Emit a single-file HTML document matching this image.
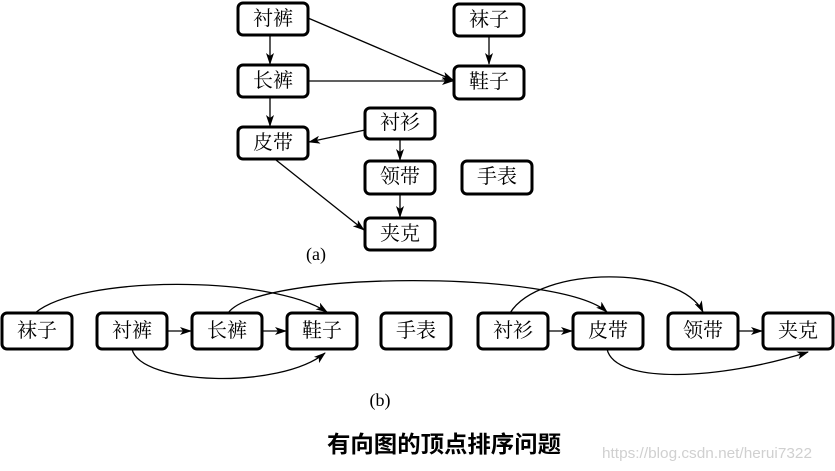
<!DOCTYPE html>
<html><head><meta charset="utf-8"><style>
html,body{margin:0;padding:0;background:#fff;}
svg{display:block;}
.n rect{fill:#fff;stroke:#000;stroke-width:3;}
.n text{font-family:"Liberation Serif","Noto Serif CJK SC","Noto Sans CJK SC",serif;font-size:20px;text-anchor:middle;dominant-baseline:central;fill:#000;}
.e{fill:none;stroke:#000;stroke-width:1.3;}
</style></head><body>
<svg width="835" height="471" viewBox="0 0 835 471" xmlns="http://www.w3.org/2000/svg">
<defs><marker id="a" viewBox="0 0 12 8" refX="11" refY="4" markerWidth="12" markerHeight="8" markerUnits="userSpaceOnUse" orient="auto"><path d="M0,0 L12,4 L0,8 L3,4 Z" fill="#000"/></marker></defs>
<g class="e" marker-end="url(#a)">
<line x1="270" y1="35" x2="270" y2="64"/>
<line x1="308" y1="18" x2="453" y2="80"/>
<line x1="489" y1="37" x2="489" y2="64"/>
<line x1="308" y1="81" x2="453" y2="81"/>
<line x1="270" y1="98" x2="270" y2="126"/>
<line x1="365" y1="130" x2="309" y2="142"/>
<line x1="400" y1="140" x2="400" y2="160"/>
<line x1="400" y1="195" x2="400" y2="217"/>
<line x1="276" y1="160" x2="364" y2="230"/>
</g>
<g class="n">
<rect x="238" y="3" width="70" height="32" rx="5"/><text x="273" y="19">衬裤</text>
<rect x="454" y="4" width="70" height="32" rx="5"/><text x="489" y="20">袜子</text>
<rect x="238" y="65" width="70" height="32" rx="5"/><text x="273" y="81">长裤</text>
<rect x="454" y="66" width="70" height="33" rx="5"/><text x="489" y="82">鞋子</text>
<rect x="238" y="127" width="70" height="32" rx="5"/><text x="273" y="143">皮带</text>
<rect x="365" y="108" width="70" height="31" rx="5"/><text x="400" y="123">衬衫</text>
<rect x="365" y="161" width="70" height="33" rx="5"/><text x="400" y="177">领带</text>
<rect x="462" y="161" width="70" height="33" rx="5"/><text x="497" y="177">手表</text>
<rect x="365" y="218" width="70" height="32" rx="5"/><text x="400" y="234">夹克</text>
</g>
<text x="316" y="260" font-family="Liberation Serif,serif" font-size="18" text-anchor="middle">(a)</text>
<g class="e" marker-end="url(#a)">
<path d="M35,313 C80,275 270,275 327,312"/>
<path d="M228,313 C260,270 560,270 607,312"/>
<path d="M510,313 C540,265 680,265 703,312"/>
<path d="M132,349 C140,385 280,390 325,353"/>
<path d="M607,349 C615,385 720,380 808,352"/>
<line x1="167" y1="331" x2="191" y2="331"/>
<line x1="262" y1="331" x2="286" y2="331"/>
<line x1="548" y1="331" x2="572" y2="331"/>
<line x1="738" y1="331" x2="762" y2="331"/>
</g>
<g class="n">
<rect x="2" y="313" width="70" height="36" rx="5"/><text x="37" y="331">袜子</text>
<rect x="97" y="313" width="70" height="36" rx="5"/><text x="132" y="331">衬裤</text>
<rect x="192" y="313" width="70" height="36" rx="5"/><text x="227" y="331">长裤</text>
<rect x="287" y="313" width="70" height="36" rx="5"/><text x="322" y="331">鞋子</text>
<rect x="381" y="313" width="70" height="36" rx="5"/><text x="416" y="331">手表</text>
<rect x="478" y="313" width="70" height="36" rx="5"/><text x="513" y="331">衬衫</text>
<rect x="573" y="313" width="70" height="36" rx="5"/><text x="608" y="331">皮带</text>
<rect x="668" y="313" width="70" height="36" rx="5"/><text x="703" y="331">领带</text>
<rect x="763" y="313" width="70" height="36" rx="5"/><text x="798" y="331">夹克</text>
</g>
<text x="380" y="406" font-family="Liberation Serif,serif" font-size="18" text-anchor="middle">(b)</text>
<text x="327" y="452" font-family="'Liberation Sans','Noto Sans CJK SC',sans-serif" font-size="23" font-weight="bold" textLength="234" lengthAdjust="spacingAndGlyphs">有向图的顶点排序问题</text>
<text x="602" y="458" font-family="'Liberation Sans',sans-serif" font-size="14.5" fill="#d0d0d0" textLength="210" lengthAdjust="spacingAndGlyphs">https://blog.csdn.net/herui7322</text>
</svg>
</body></html>
